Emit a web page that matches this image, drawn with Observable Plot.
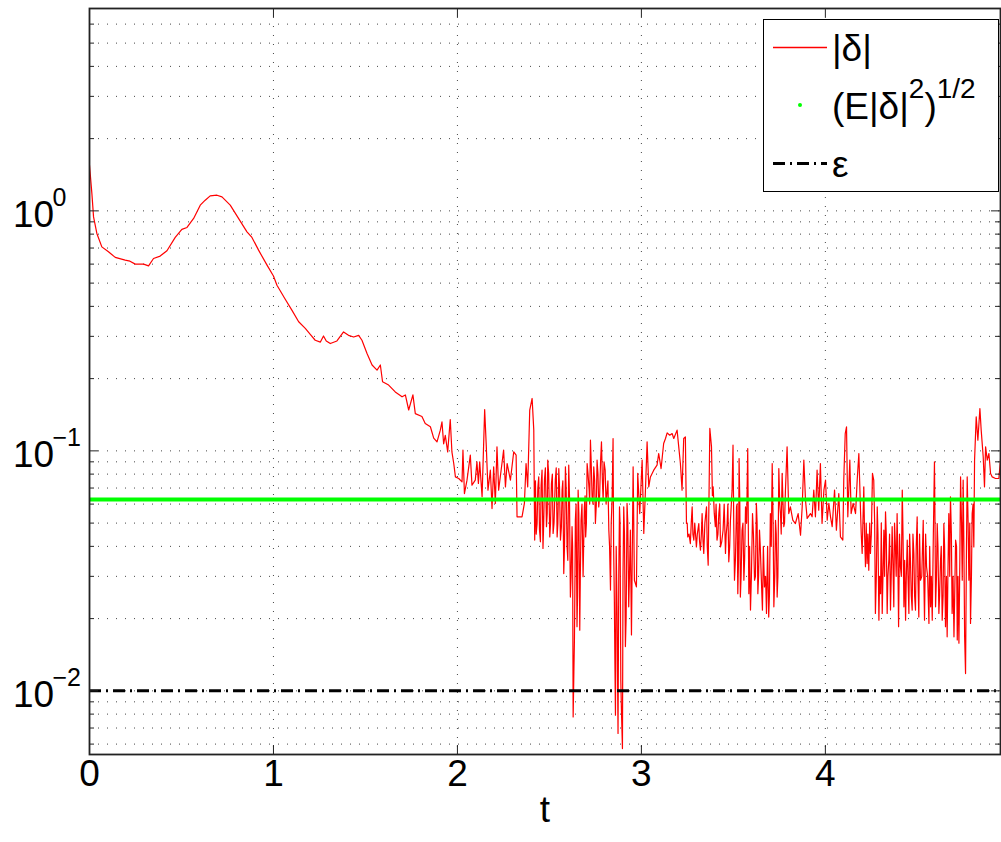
<!DOCTYPE html>
<html><head><meta charset="utf-8">
<script src="https://cdn.jsdelivr.net/npm/d3@7"></script>
<script src="https://cdn.jsdelivr.net/npm/@observablehq/plot@0.6"></script>
<style>body{margin:0;background:#fff}#chart{width:1001px;height:842px}</style>
</head><body><div id="chart"></div>
<script>
// |delta|: [t, value]
const deltaSmooth = [[0,1.55],[0.013,1.18],[0.022,0.944],[0.04,0.805],[0.067,0.708],[0.103,0.675],[0.14,0.64],[0.194,0.623],[0.22,0.617],[0.249,0.6],[0.294,0.6],[0.321,0.59],[0.348,0.633],[0.384,0.648],[0.421,0.682],[0.466,0.775],[0.502,0.837],[0.53,0.853],[0.566,0.93],[0.602,1.056],[0.629,1.108],[0.656,1.155],[0.693,1.162],[0.72,1.143],[0.765,1.056],[0.81,0.93],[0.856,0.818],[0.883,0.775],[0.919,0.686],[0.965,0.594],[1.0,0.535],[1.019,0.49],[1.064,0.428],[1.1,0.386],[1.137,0.345],[1.173,0.324],[1.2,0.306],[1.227,0.289],[1.255,0.284],[1.272,0.301],[1.287,0.287],[1.309,0.28],[1.345,0.287],[1.381,0.313],[1.408,0.303],[1.436,0.298],[1.463,0.303],[1.481,0.289],[1.508,0.255],[1.536,0.228],[1.563,0.217],[1.581,0.228],[1.593,0.194],[1.626,0.188],[1.662,0.176],[1.699,0.168],[1.717,0.171],[1.735,0.148],[1.758,0.171],[1.771,0.143],[1.807,0.139],[1.825,0.130],[1.853,0.126],[1.871,0.113],[1.889,0.109]];
const deltaNoisyA = [[1.907,0.122],[1.916,0.132],[1.925,0.107],[1.934,0.116],[1.947,0.099],[1.961,0.135],[1.970,0.099],[1.980,0.0886],[1.989,0.0779],[2.007,0.0767],[2.025,0.0743],[2.030,0.1007],[2.038,0.0664],[2.052,0.0755],[2.070,0.096],[2.079,0.072],[2.097,0.0755],[2.106,0.09],[2.114,0.0731],[2.121,0.09],[2.134,0.0644],[2.148,0.1487],[2.157,0.1039],[2.166,0.0686],[2.179,0.0831],[2.188,0.0575],[2.197,0.0858],[2.206,0.0604],[2.215,0.1039],[2.224,0.0686],[2.242,0.0886],[2.251,0.1007],[2.261,0.0708],[2.270,0.0886],[2.288,0.0755],[2.306,0.0991],[2.319,0.096],[2.324,0.0531],[2.351,0.0531],[2.364,0.0604],[2.373,0.0886],[2.382,0.0708],[2.393,0.1477],[2.406,0.1653],[2.415,0.122],[2.420,0.0425],[2.433,0.0498],[2.442,0.0779],[2.451,0.0418],[2.460,0.0831],[2.465,0.0392],[2.473,0.0755],[2.484,0.0483],[2.491,0.0915],[2.502,0.0438],[2.511,0.0731],[2.520,0.0453],[2.532,0.0755],[2.542,0.0438],[2.551,0.0844],[2.560,0.0425],[2.569,0.0686],[2.578,0.0308],[2.587,0.0858],[2.596,0.0398],[2.605,0.0872],[2.614,0.0246],[2.623,0.0483],[2.629,0.00779],[2.636,0.0163],[2.641,0.0514],[2.650,0.0185],[2.656,0.0686],[2.665,0.0179],[2.672,0.0514],[2.683,0.0299],[2.690,0.0584],[2.697,0.0438],[2.705,0.0886],[2.716,0.0686],[2.723,0.1108],[2.732,0.0644],[2.741,0.0858],[2.750,0.0498],[2.759,0.0915],[2.768,0.0584],[2.783,0.109],[2.792,0.0623],[2.803,0.0831],[2.814,0.0686],[2.823,0.0467],[2.832,0.0263],[2.841,0.0644],[2.846,0.1126],[2.853,0.0239],[2.859,0.00792],[2.868,0.021],[2.873,0.00665],[2.881,0.0584],[2.888,0.0111],[2.897,0.00575],[2.904,0.0584],[2.913,0.0153],[2.922,0.0604],[2.931,0.0224],[2.940,0.0467]];
const deltaNoisyB = [[2.946,0.0171],[2.955,0.0858],[2.962,0.0289],[2.973,0.0271],[2.980,0.0805],[2.991,0.0548],[3.004,0.0915],[3.013,0.0453],[3.022,0.0686],[3.031,0.109],[3.040,0.0708],[3.049,0.0779],[3.067,0.0831],[3.085,0.0872],[3.094,0.0975],[3.107,0.0844],[3.121,0.1073],[3.131,0.1126],[3.140,0.1189],[3.154,0.1162],[3.167,0.1181],[3.176,0.1126],[3.194,0.122],[3.203,0.1039],[3.212,0.0886],[3.221,0.0686],[3.230,0.1126],[3.239,0.1144],[3.245,0.0498],[3.252,0.0438],[3.266,0.0411],[3.276,0.0584],[3.285,0.0425],[3.299,0.0398],[3.312,0.0498],[3.321,0.0386],[3.330,0.0548],[3.339,0.0374],[3.354,0.0584],[3.363,0.0334],[3.372,0.124],[3.381,0.1039],[3.390,0.0708],[3.402,0.0483],[3.411,0.0425],[3.421,0.0548],[3.430,0.0398],[3.444,0.0467],[3.457,0.0374],[3.466,0.0498],[3.475,0.0345],[3.484,0.0514],[3.493,0.0686],[3.498,0.1056],[3.506,0.0289],[3.517,0.0584],[3.524,0.0254],[3.531,0.0929],[3.538,0.0246],[3.547,0.0467],[3.557,0.0289],[3.566,0.0584],[3.578,0.1023],[3.584,0.0254],[3.593,0.0217],[3.604,0.0548],[3.615,0.0289],[3.625,0.0604],[3.633,0.0254],[3.642,0.0467],[3.651,0.0308],[3.658,0.0217],[3.669,0.0271],[3.680,0.021],[3.692,0.0203],[3.701,0.0548],[3.711,0.0886],[3.720,0.0224],[3.729,0.0514],[3.738,0.0246],[3.747,0.0844],[3.756,0.0548],[3.765,0.0805],[3.774,0.0483],[3.783,0.0686],[3.792,0.1039],[3.801,0.0548],[3.810,0.0584],[3.823,0.0514],[3.837,0.0498],[3.852,0.0548],[3.865,0.0445],[3.874,0.0584],[3.883,0.0915],[3.892,0.0623],[3.901,0.0523],[3.919,0.0548]];
const deltaNoisyC = [[3.928,0.0531],[3.937,0.0686],[3.946,0.0531],[3.955,0.0831],[3.964,0.0566],[3.973,0.0886],[3.982,0.0498],[3.992,0.0686],[4.001,0.0755],[4.010,0.0514],[4.019,0.0604],[4.028,0.0531],[4.037,0.0483],[4.050,0.0686],[4.060,0.0467],[4.073,0.0664],[4.082,0.0438],[4.095,0.0425],[4.100,0.0755],[4.108,0.1181],[4.115,0.126],[4.122,0.0531],[4.133,0.0915],[4.140,0.0548],[4.151,0.0604],[4.164,0.0548],[4.173,0.0755],[4.182,0.0975],[4.191,0.0566],[4.200,0.0374],[4.209,0.0708],[4.218,0.0329],[4.227,0.0339],[4.236,0.0318],[4.245,0.0374],[4.256,0.0805],[4.263,0.0755],[4.272,0.021],[4.282,0.0584],[4.291,0.0197],[4.300,0.0254],[4.309,0.021],[4.318,0.0467],[4.327,0.0557],[4.336,0.021],[4.345,0.035],[4.354,0.0217],[4.363,0.0483],[4.372,0.0224],[4.381,0.0398],[4.390,0.0548],[4.398,0.0185],[4.408,0.0329],[4.418,0.0686],[4.427,0.0224],[4.436,0.0197],[4.445,0.0425],[4.454,0.021],[4.463,0.0339],[4.472,0.0217],[4.481,0.0374],[4.490,0.0217],[4.499,0.0531],[4.508,0.0203],[4.517,0.0289],[4.532,0.0514],[4.539,0.0197],[4.550,0.0329],[4.563,0.0191],[4.572,0.0224],[4.581,0.0197],[4.593,0.09],[4.599,0.0224],[4.608,0.0498],[4.617,0.021],[4.626,0.035],[4.635,0.0197],[4.644,0.0498],[4.653,0.0185],[4.662,0.0168],[4.671,0.0548],[4.680,0.0644],[4.689,0.021],[4.699,0.0168],[4.708,0.0425],[4.717,0.0163],[4.726,0.0158],[4.735,0.0779],[4.744,0.0289],[4.749,0.0755],[4.757,0.0168],[4.762,0.0118],[4.771,0.0779],[4.780,0.0289],[4.789,0.0191],[4.798,0.0548],[4.807,0.0398],[4.811,0.0915],[4.820,0.1386],[4.829,0.1108],[4.840,0.1501],[4.847,0.122],[4.858,0.0945],[4.865,0.0708],[4.871,0.1039],[4.880,0.0915],[4.889,0.0975],[4.898,0.0805],[4.907,0.0779],[4.925,0.0767],[4.943,0.0767],[4.952,0.0915],[4.958,0.1144]];
// extra in-between oscillations read from the densest stretches
const deltaDenseA = [[2.424,0.075],[2.428,0.045],[2.437,0.07],[2.446,0.047],[2.455,0.072],[2.469,0.05],[2.478,0.085],[2.488,0.055],[2.496,0.08],[2.506,0.05],[2.516,0.08],[2.525,0.05],[2.537,0.085],[2.546,0.05],[2.555,0.07],[2.565,0.048],[2.573,0.075],[2.582,0.04],[2.591,0.07],[2.600,0.035],[2.609,0.065],[2.618,0.03],[2.626,0.04],[2.633,0.012],[2.639,0.03],[2.645,0.06],[2.653,0.025],[2.660,0.055],[2.668,0.03],[2.677,0.06],[2.686,0.04],[2.694,0.065],[2.701,0.05],[2.710,0.08],[2.719,0.06],[2.727,0.09],[2.737,0.06],[2.746,0.075],[2.755,0.06],[2.764,0.08],[2.773,0.065],[2.778,0.09],[2.788,0.075],[2.797,0.09],[2.808,0.06],[2.818,0.075],[2.827,0.04],[2.836,0.05],[2.849,0.04],[2.856,0.013],[2.863,0.04],[2.870,0.012],[2.877,0.03],[2.884,0.05],[2.892,0.008],[2.900,0.03],[2.908,0.045],[2.917,0.02],[2.926,0.05],[2.935,0.03]];
const deltaDenseB = [[3.249,0.05],[3.259,0.045],[3.271,0.05],[3.280,0.045],[3.290,0.05],[3.304,0.045],[3.316,0.042],[3.326,0.045],[3.335,0.042],[3.345,0.05],[3.358,0.04],[3.367,0.06],[3.386,0.065],[3.396,0.055],[3.406,0.06],[3.416,0.045],[3.426,0.06],[3.437,0.042],[3.450,0.06],[3.461,0.045],[3.470,0.06],[3.480,0.04],[3.502,0.05],[3.511,0.035],[3.520,0.06],[3.528,0.035],[3.535,0.06],[3.542,0.03],[3.552,0.05],[3.561,0.035],[3.572,0.05],[3.588,0.04],[3.598,0.03],[3.609,0.045],[3.620,0.03],[3.629,0.05],[3.637,0.03],[3.646,0.04],[3.655,0.025],[3.663,0.04],[3.675,0.03],[3.686,0.04],[3.696,0.025],[3.706,0.04],[3.716,0.05],[3.725,0.03],[3.733,0.045],[3.742,0.03],[3.752,0.06],[3.760,0.045],[3.770,0.06],[3.778,0.05]];
const deltaDenseC = [[4.195,0.045],[4.204,0.05],[4.213,0.045],[4.222,0.05],[4.231,0.045],[4.241,0.05],[4.250,0.045],[4.268,0.05],[4.277,0.03],[4.286,0.045],[4.295,0.03],[4.304,0.05],[4.313,0.03],[4.322,0.03],[4.331,0.045],[4.340,0.03],[4.349,0.045],[4.358,0.03],[4.367,0.035],[4.376,0.05],[4.385,0.03],[4.394,0.035],[4.403,0.045],[4.413,0.03],[4.422,0.045],[4.431,0.035],[4.440,0.03],[4.449,0.03],[4.458,0.045],[4.467,0.025],[4.476,0.045],[4.485,0.025],[4.494,0.04],[4.503,0.03],[4.512,0.045],[4.524,0.03],[4.535,0.03],[4.545,0.045],[4.556,0.03],[4.567,0.04],[4.576,0.03],[4.587,0.045],[4.596,0.05],[4.604,0.03],[4.612,0.04],[4.621,0.025],[4.630,0.04],[4.640,0.025],[4.648,0.04],[4.658,0.03],[4.666,0.03],[4.676,0.03],[4.685,0.045],[4.694,0.03],[4.703,0.025],[4.713,0.04],[4.721,0.03],[4.731,0.035],[4.740,0.05],[4.753,0.04],[4.767,0.04],[4.776,0.05],[4.785,0.05],[4.794,0.03],[4.803,0.06]];
const rmsValue = 0.0627;   // (E|δ|^2)^{1/2}
const epsValue = 0.01;     // ε
const xTicks = [0, 1, 2, 3, 4];
const xTickLabels = ["0", "1", "2", "3", "4"];
const yMajor = [0.01, 0.1, 1];
const yExponents = ["\u22122", "\u22121", "0"];
const yMinor = [0.006,0.007,0.008,0.009,0.02,0.03,0.04,0.05,0.06,0.07,0.08,0.09,0.2,0.3,0.4,0.5,0.6,0.7,0.8,0.9,2,3,4,5,6];
const xLabel = "t";

const series = [...deltaSmooth, ...deltaNoisyA, ...deltaNoisyB, ...deltaNoisyC, ...deltaDenseA, ...deltaDenseB, ...deltaDenseC]
  .map(([t, v]) => ({t, v})).sort((a, b) => a.t - b.t);

const W = 1001, H = 842, mL = 89, mR = 1, mT = 8, mB = 88;
const fw = W - mL - mR, fh = H - mT - mB;
const font = "'Liberation Sans', Arial, Helvetica, sans-serif";
const axisCol = "#222";
const gridStyle = {stroke: "#333", strokeOpacity: 0.9, strokeWidth: 1, strokeDasharray: "1,8"};

const plot = Plot.plot({
  width: W, height: H,
  marginLeft: mL, marginRight: mR, marginTop: mT, marginBottom: mB,
  style: {fontFamily: font, background: "white", color: "black"},
  x: {domain: [0, 4.952], axis: null},
  y: {type: "log", domain: [0.00543, 6.97], axis: null},
  marks: [
    Plot.ruleY([...yMinor, ...yMajor], {y: d => d, ...gridStyle}),
    Plot.ruleX(xTicks, {x: d => d, ...gridStyle}),
    Plot.line(series, {x: "t", y: "v", stroke: "#ff0000", strokeWidth: 1.2, clip: true}),
    Plot.ruleY([rmsValue], {y: d => d, stroke: "#00ff00", strokeWidth: 4}),
    Plot.ruleY([epsValue], {y: d => d, stroke: "#000", strokeWidth: 3, strokeDasharray: "12,5,2,5"}),
    // inward ticks
    Plot.tickX(xTicks, {x: d => d, insetTop: fh - 9, stroke: axisCol, strokeWidth: 1}),
    Plot.tickX(xTicks, {x: d => d, insetBottom: fh - 9, stroke: axisCol, strokeWidth: 1}),
    Plot.tickY(yMajor, {y: d => d, insetRight: fw - 9, stroke: axisCol, strokeWidth: 1}),
    Plot.tickY(yMajor, {y: d => d, insetLeft: fw - 9, stroke: axisCol, strokeWidth: 1}),
    Plot.tickY(yMinor, {y: d => d, insetRight: fw - 5, stroke: axisCol, strokeWidth: 1}),
    Plot.tickY(yMinor, {y: d => d, insetLeft: fw - 5, stroke: axisCol, strokeWidth: 1}),
    Plot.frame({stroke: axisCol, strokeWidth: 1.8}),
    // tick labels
    Plot.text(xTicks, {x: d => d, text: (d, i) => xTickLabels[i], frameAnchor: "bottom", dy: 31, fontSize: 37, fill: "black"}),
    Plot.text(yMajor, {y: d => d, text: () => "10", frameAnchor: "left", textAnchor: "start", dx: -76.5, dy: 4, fontSize: 37, fill: "black"}),
    Plot.text(yMajor, {y: d => d, text: (d, i) => yExponents[i], frameAnchor: "left", textAnchor: "start", dx: -37, dy: -13, fontSize: 25, fill: "black"}),
    Plot.text([xLabel], {text: d => d, frameAnchor: "bottom", dy: 67, fontSize: 37, fill: "black"})
  ]
});
document.getElementById("chart").appendChild(plot);

// legend inside the axes (top-right)
const svg = d3.select(plot);
const lg = svg.append("g").attr("font-family", font).attr("fill", "black").attr("text-anchor", "start");
lg.append("rect").attr("x", 763.5).attr("y", 19.5).attr("width", 235).attr("height", 172)
  .attr("fill", "white").attr("stroke", "black").attr("stroke-width", 1);
lg.append("line").attr("x1", 773).attr("x2", 827).attr("y1", 47.5).attr("y2", 47.5)
  .style("stroke", "#ff0000").style("stroke-width", "1.5px");
lg.append("text").attr("x", 832).attr("y", 61).attr("font-size", 37).attr("text-anchor", "start").text("|δ|");
lg.append("circle").attr("cx", 800).attr("cy", 105).attr("r", 2).attr("fill", "#00ff00");
const t2 = lg.append("text").attr("x", 832).attr("y", 119).attr("font-size", 37).attr("text-anchor", "start");
t2.append("tspan").text("(E|δ|");
t2.append("tspan").attr("dy", -21).attr("font-size", 28).text("2");
t2.append("tspan").attr("dy", 21).text(")");
t2.append("tspan").attr("dy", -21).attr("font-size", 28).text("1/2");
lg.append("line").attr("x1", 773).attr("x2", 827).attr("y1", 163.5).attr("y2", 163.5)
  .attr("stroke", "black").attr("stroke-width", 3).attr("stroke-dasharray", "12,5,2,5");
lg.append("text").attr("x", 832).attr("y", 177).attr("font-size", 37).attr("text-anchor", "start").text("ε");
</script></body></html>
